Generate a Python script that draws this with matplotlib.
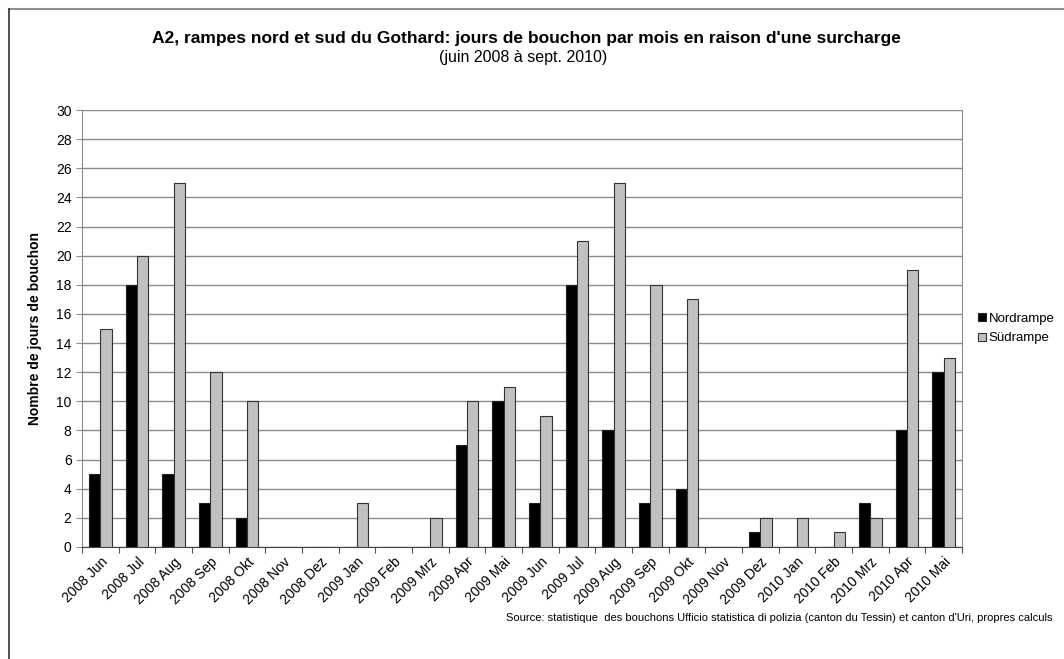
import matplotlib.pyplot as plt
import numpy as np

plt.rcParams['font.family'] = ['Liberation Sans', 'DejaVu Sans']

months = ['2008 Jun', '2008 Jul', '2008 Aug', '2008 Sep', '2008 Okt', '2008 Nov',
          '2008 Dez', '2009 Jan', '2009 Feb', '2009 Mrz', '2009 Apr', '2009 Mai',
          '2009 Jun', '2009 Jul', '2009 Aug', '2009 Sep', '2009 Okt', '2009 Nov',
          '2009 Dez', '2010 Jan', '2010 Feb', '2010 Mrz', '2010 Apr', '2010 Mai']
nordrampe = [5, 18, 5, 3, 2, 0, 0, 0, 0, 0, 7, 10, 3, 18, 8, 3, 4, 0, 1, 0, 0, 3, 8, 12]
suedrampe = [15, 20, 25, 12, 10, 0, 0, 3, 0, 2, 10, 11, 9, 21, 25, 18, 17, 0, 2, 2, 1, 2, 19, 13]

fig = plt.figure(figsize=(10.64, 6.59), dpi=100)
ax = fig.add_axes([0.0771, 0.170, 0.827, 0.663])

x = np.arange(len(months))
w = 0.31
ax.bar(x - w / 2, nordrampe, w, color='black', edgecolor='#222222', linewidth=0.8,
       label='Nordrampe', zorder=3)
ax.bar(x + w / 2, suedrampe, w, color='#c0c0c0', edgecolor='#333333', linewidth=0.8,
       label='Südrampe', zorder=3)

ax.set_xlim(-0.5, len(months) - 0.5)
ax.set_ylim(0, 30)
ax.set_yticks(range(0, 31, 2))
ax.yaxis.grid(True, color='#8c8c8c', linewidth=1.0, zorder=0)
# ticks sit between the months, labels are placed by hand under each month
ax.set_xticks(np.arange(len(months) + 1) - 0.5)
ax.set_xticklabels([])
for i, m in enumerate(months):
    ax.text(i + 0.0, -0.55, m, rotation=45, ha='right', va='top', fontsize=10,
            rotation_mode='anchor', transform=ax.transData)
ax.tick_params(axis='x', length=4, color='#555555')
ax.tick_params(axis='y', length=4, color='#8c8c8c', labelsize=10)

ax.spines['top'].set_visible(False)
ax.spines['right'].set_color('#8c8c8c')
ax.spines['left'].set_color('#8c8c8c')
ax.spines['bottom'].set_color('#444444')
ax.set_ylabel('Nombre de jours de bouchon', fontsize=10, fontweight='bold', labelpad=10)

leg = ax.legend(loc='center left', bbox_to_anchor=(1.005, 0.5), frameon=False,
                fontsize=9.5, handlelength=0.6, handleheight=0.6, handletextpad=0.2,
                labelspacing=0.6)

fig.text(0.495, 0.942, "A2, rampes nord et sud du Gothard: jours de bouchon par mois en raison d'une surcharge",
         ha='center', va='center', fontsize=12.5, fontweight='bold')
fig.text(0.492, 0.912, '(juin 2008 à sept. 2010)', ha='center', va='center', fontsize=11.5)
fig.text(0.989, 0.062, "Source: statistique  des bouchons Ufficio statistica di polizia (canton du Tessin) et canton d'Uri, propres calculs",
         ha='right', va='center', fontsize=8)

# outer frame lines
fig.add_artist(plt.Line2D([0.0085, 1.0], [0.986, 0.986], color='#909090', linewidth=1.5))
fig.add_artist(plt.Line2D([0.0085, 0.0085], [0.0, 0.986], color='#333333', linewidth=1.2))

fig.savefig('out.png', dpi=100)
